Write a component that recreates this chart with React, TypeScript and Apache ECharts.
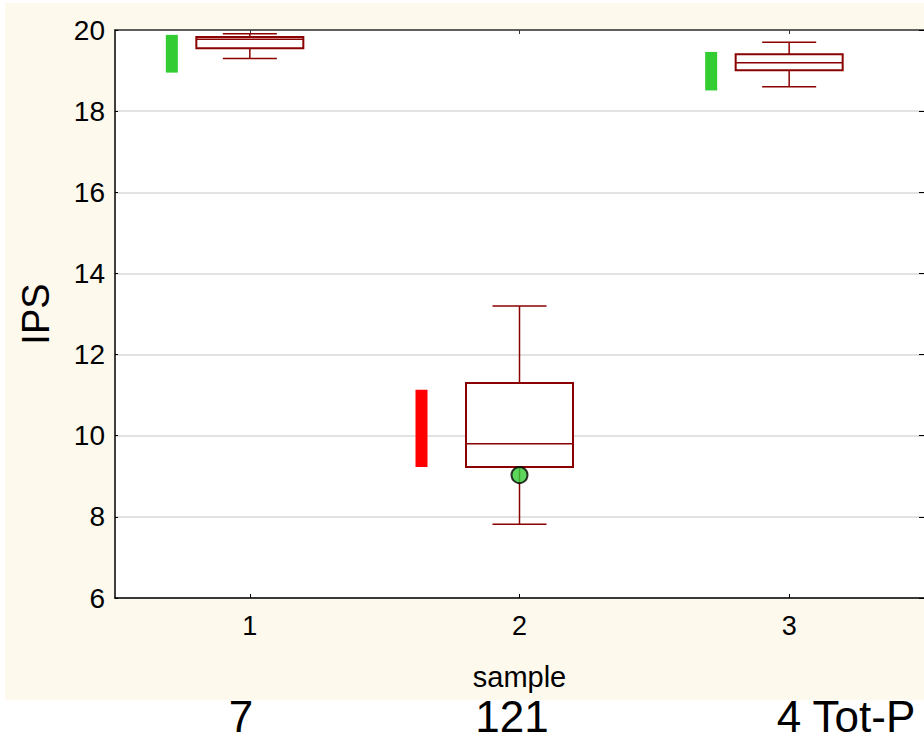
import React, { useEffect, useRef } from "react";
import * as echarts from "echarts";

// ---- data ----
const categories = ["1", "2", "3"];
const whiskerLow = [19.3, 7.82, 18.6];
const quartile1 = [19.55, 9.23, 19.01];
const medians = [19.77, 9.8, 19.19];
const quartile3 = [19.83, 11.3, 19.4];
const whiskerHigh = [19.91, 13.2, 19.7];
const rangeLow = [18.95, 9.23, 18.51];
const rangeHigh = [19.88, 11.13, 19.46];
const markerPoints: [string, number][] = [["2", 9.03]];
const bottomLabels = ["7", "121", "4 Tot-P"];
const yMin = 6;
const yMax = 20;
const yStep = 2;

// ---- styles / layout ----
const FONT = "Liberation Sans, Arial, sans-serif";
const BOX_COLOR = "#8b0000";
const rangeColors = ["#33cc33", "#ff0000", "#33cc33"];
const rangeOffsets = [-78, -98, -78];
const bottomLabelX = [241, 512, 846];

export default function App() {
  const ref = useRef<HTMLDivElement>(null);
  useEffect(() => {
    if (!ref.current) return;
    const chart = echarts.init(ref.current, null, { renderer: "svg" });

    const boxData = categories.map((_, i) => [
      i,
      whiskerLow[i],
      quartile1[i],
      medians[i],
      quartile3[i],
      whiskerHigh[i],
    ]);
    const rangeData = categories.map((_, i) => [i, rangeLow[i], rangeHigh[i]]);

    const option: any = {
      animation: false,
      backgroundColor: "#ffffff",
      textStyle: { fontFamily: FONT },
      graphic: [
        {
          type: "rect",
          z: -100,
          silent: true,
          shape: { x: 5, y: 3, width: 925, height: 697 },
          style: { fill: "#fdf9ed" },
        },
        ...bottomLabels.map((t, i) => ({
          type: "text",
          x: bottomLabelX[i],
          y: 716,
          style: {
            text: t,
            fontSize: 44,
            fontFamily: FONT,
            fill: "#000",
            textAlign: "center",
            textVerticalAlign: "middle",
          },
        })),
      ],
      grid: {
        left: 115,
        top: 30,
        width: 812,
        height: 568,
        show: true,
        backgroundColor: "#ffffff",
        borderWidth: 0,
      },
      xAxis: [
        {
          type: "category",
          data: categories,
          boundaryGap: true,
          position: "bottom",
          name: "sample",
          nameLocation: "middle",
          nameGap: 64,
          nameTextStyle: { fontSize: 29, color: "#000", fontFamily: FONT },
          axisLine: { show: true, lineStyle: { color: "#000", width: 1.5 } },
          axisTick: {
            show: true,
            inside: true,
            length: 4,
            alignWithLabel: true,
            lineStyle: { color: "#000" },
          },
          axisLabel: { fontSize: 27, color: "#000", margin: 14, fontFamily: FONT },
          splitLine: { show: false },
        },
        {
          type: "category",
          data: categories,
          boundaryGap: true,
          position: "top",
          axisLine: { show: true, lineStyle: { color: "#333", width: 1.5 } },
          axisTick: {
            show: true,
            inside: true,
            length: 4,
            alignWithLabel: true,
            lineStyle: { color: "#333" },
          },
          axisLabel: { show: false },
          splitLine: { show: false },
        },
      ],
      yAxis: [
        {
          type: "value",
          min: yMin,
          max: yMax,
          interval: yStep,
          position: "left",
          name: "IPS",
          nameLocation: "middle",
          nameGap: 60,
          nameRotate: 90,
          nameTextStyle: { fontSize: 38, color: "#000", fontFamily: FONT },
          axisLine: { show: true, lineStyle: { color: "#000", width: 1.5 } },
          axisTick: {
            show: true,
            inside: true,
            length: 3,
            lineStyle: { color: "#000" },
          },
          axisLabel: { fontSize: 28, color: "#000", margin: 10, fontFamily: FONT },
          splitLine: { show: true, lineStyle: { color: "#d9d9d9", width: 1.5 } },
        },
        {
          type: "value",
          min: yMin,
          max: yMax,
          interval: yStep,
          position: "right",
          axisLine: { show: false },
          axisTick: {
            show: true,
            inside: true,
            length: 5,
            lineStyle: { color: "#000" },
          },
          axisLabel: { show: false },
          splitLine: { show: false },
        },
      ],
      series: [
        {
          type: "custom",
          name: "range",
          xAxisIndex: 0,
          yAxisIndex: 0,
          data: rangeData,
          encode: { x: 0, y: [1, 2] },
          renderItem: (params: any, api: any) => {
            const i = params.dataIndex;
            const c = api.value(0);
            const lo = api.coord([c, api.value(1)]);
            const hi = api.coord([c, api.value(2)]);
            const cx = lo[0] + rangeOffsets[i];
            const w = 12;
            return {
              type: "rect",
              shape: { x: cx - w / 2, y: hi[1], width: w, height: lo[1] - hi[1] },
              style: { fill: rangeColors[i] },
            };
          },
          z: 3,
        },
        {
          type: "custom",
          name: "box",
          xAxisIndex: 0,
          yAxisIndex: 0,
          data: boxData,
          encode: { x: 0, y: [1, 2, 3, 4, 5] },
          renderItem: (params: any, api: any) => {
            const c = api.value(0);
            const pMin = api.coord([c, api.value(1)]);
            const pQ1 = api.coord([c, api.value(2)]);
            const pMed = api.coord([c, api.value(3)]);
            const pQ3 = api.coord([c, api.value(4)]);
            const pMax = api.coord([c, api.value(5)]);
            const x = pMed[0];
            const bw = 107;
            const cw = 54;
            const ls = { stroke: BOX_COLOR, lineWidth: 1.5 };
            return {
              type: "group",
              children: [
                {
                  type: "line",
                  shape: { x1: x, y1: pQ3[1], x2: x, y2: pMax[1] },
                  style: ls,
                },
                {
                  type: "line",
                  shape: { x1: x, y1: pQ1[1], x2: x, y2: pMin[1] },
                  style: ls,
                },
                {
                  type: "line",
                  shape: { x1: x - cw / 2, y1: pMax[1], x2: x + cw / 2, y2: pMax[1] },
                  style: ls,
                },
                {
                  type: "line",
                  shape: { x1: x - cw / 2, y1: pMin[1], x2: x + cw / 2, y2: pMin[1] },
                  style: ls,
                },
                {
                  type: "rect",
                  shape: { x: x - bw / 2, y: pQ3[1], width: bw, height: pQ1[1] - pQ3[1] },
                  style: { fill: "#ffffff", stroke: BOX_COLOR, lineWidth: 2 },
                },
                {
                  type: "line",
                  shape: { x1: x - bw / 2, y1: pMed[1], x2: x + bw / 2, y2: pMed[1] },
                  style: ls,
                },
              ],
            };
          },
          z: 4,
        },
        {
          type: "scatter",
          name: "point",
          xAxisIndex: 0,
          yAxisIndex: 0,
          data: markerPoints,
          symbol: "circle",
          symbolSize: 16,
          itemStyle: { color: "#33cc33", borderColor: "#000", borderWidth: 2 },
          z: 10,
        },
      ],
    };
    chart.setOption(option);
    return () => chart.dispose();
  }, []);
  return (
    <div
      ref={ref}
      style={{ position: "fixed", left: 0, top: 0, width: 924, height: 744 }}
    />
  );
}
